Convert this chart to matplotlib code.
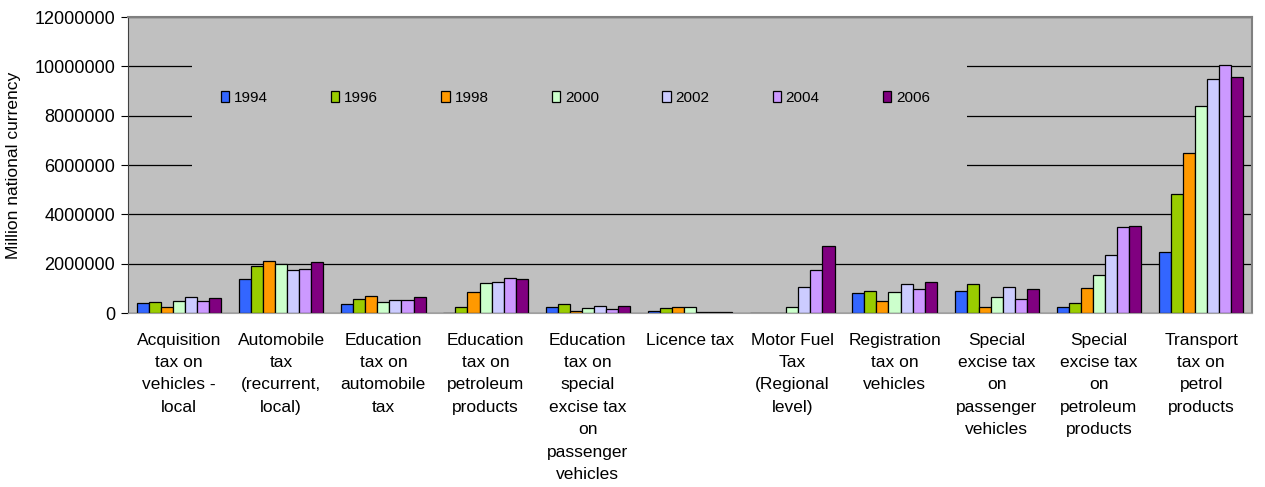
import numpy as np
import matplotlib.pyplot as plt
from matplotlib.patches import Rectangle

plt.rcParams['font.family'] = ['Liberation Sans', 'DejaVu Sans']

categories = ['Acquisition\ntax on\nvehicles -\nlocal',
              'Automobile\ntax\n(recurrent,\nlocal)',
              'Education\ntax on\nautomobile\ntax',
              'Education\ntax on\npetroleum\nproducts',
              'Education\ntax on\nspecial\nexcise tax\non\npassenger\nvehicles',
              'Licence tax',
              'Motor Fuel\nTax\n(Regional\nlevel)',
              'Registration\ntax on\nvehicles',
              'Special\nexcise tax\non\npassenger\nvehicles',
              'Special\nexcise tax\non\npetroleum\nproducts',
              'Transport\ntax on\npetrol\nproducts']

years = ['1994', '1996', '1998', '2000', '2002', '2004', '2006']
colors = ['#3366FF', '#99CC00', '#FF9900', '#CCFFCC', '#CCCCFF', '#CC99FF', '#800080']

#values per year, one per category
v1994 = [410000, 1370000, 360000, 0, 250000, 107000, 0, 800000, 910000, 254000, 2470000]
v1996 = [465000, 1930000, 560000, 253000, 360000, 200000, 0, 910000, 1165000, 400000, 4840000]
v1998 = [253000, 2130000, 705000, 865000, 107000, 265000, 0, 510000, 240000, 1030000, 6490000]
v2000 = [505000, 1990000, 465000, 1230000, 200000, 265000, 253000, 855000, 670000, 1540000, 8390000]
v2002 = [665000, 1730000, 520000, 1270000, 305000, 60000, 1065000, 1165000, 1070000, 2360000, 9490000]
v2004 = [505000, 1790000, 520000, 1430000, 160000, 60000, 1730000, 965000, 560000, 3500000, 10040000]
v2006 = [600000, 2080000, 665000, 1375000, 305000, 60000, 2710000, 1270000, 965000, 3550000, 9580000]
series = [v1994, v1996, v1998, v2000, v2002, v2004, v2006]

fig = plt.figure(figsize=(12.65, 4.87), dpi=100)
ax = fig.add_axes([0.101, 0.357, 0.889, 0.608])
ax.set_facecolor('#C0C0C0')

x = np.arange(len(categories))
w = 0.118
for i, vals in enumerate(series):
    ax.bar(x + (i - 3) * w, vals, w, color=colors[i], edgecolor='black',
           linewidth=0.9, label=years[i], zorder=2)

ax.set_xlim(-0.5, len(categories) - 0.5)
ax.set_ylim(0, 12000000)
ax.set_yticks(np.arange(0, 12000001, 2000000))
ax.set_yticklabels([str(v) for v in range(0, 12000001, 2000000)], fontsize=13)
ax.yaxis.grid(True, color='black', linewidth=0.9)
ax.set_axisbelow(True)

# legend area hides the gridlines behind it
ax.add_patch(Rectangle((0.057, 0.45), 0.689, 0.42, transform=ax.transAxes,
                       facecolor='#C0C0C0', edgecolor='none', zorder=0.8))

ax.set_xticks(x)
ax.set_xticklabels(categories, fontsize=12.5, linespacing=1.62, va='top')
ax.tick_params(axis='x', length=0, pad=14)
ax.tick_params(axis='y', length=5, color='black', pad=4)

ax.set_ylabel('Million national currency', fontsize=12.5, labelpad=10)

for s in ['top', 'right']:
    ax.spines[s].set_color('#808080')
    ax.spines[s].set_linewidth(1.5)
ax.spines['bottom'].set_color('#A0A0A0')
ax.spines['left'].set_color('#404040')

ax.legend(loc='center', bbox_to_anchor=(0.398, 0.726), ncol=7, frameon=False,
          fontsize=11, handlelength=0.55, handleheight=0.75, handletextpad=0.3,
          columnspacing=4.15)

plt.savefig('out.png', dpi=100)
